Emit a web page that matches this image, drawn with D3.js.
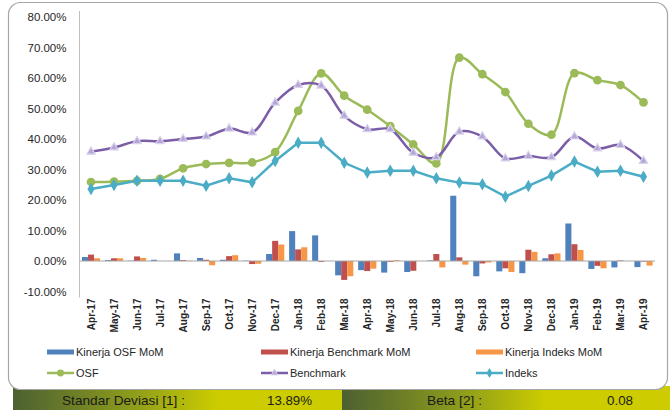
<!DOCTYPE html>
<html lang="en">
  <head>
    <meta charset="UTF-8" />
    <script src="https://cdn.jsdelivr.net/npm/d3@7/dist/d3.min.js"></script>
    <style>
      body {
        margin: 0;
        background: #fff;
        font-family: "Liberation Sans", Arial, sans-serif;
      }
    </style>
  </head>
  <body>
    <div class="canvas"></div>
    <script>
      const months = [
        "Apr-17", "May-17", "Jun-17", "Jul-17", "Aug-17", "Sep-17", "Oct-17",
        "Nov-17", "Dec-17", "Jan-18", "Feb-18", "Mar-18", "Apr-18", "May-18",
        "Jun-18", "Jul-18", "Aug-18", "Sep-18", "Oct-18", "Nov-18", "Dec-18",
        "Jan-19", "Feb-19", "Mar-19", "Apr-19",
      ];

      // cumulative lines (%)
      const osf = [25.9, 26.0, 26.3, 26.9, 30.4, 31.8, 32.2, 32.3, 35.7, 49.2, 61.5, 54.2,
        49.6, 44.2, 38.2, 32.0, 66.7, 61.3, 55.4, 45.0, 41.4, 61.6, 59.3, 57.7, 52.0];
      const benchmark = [35.8, 37.2, 39.3, 39.3, 40.0, 40.8, 43.4, 42.1, 51.9, 57.7, 57.5, 47.6,
        43.2, 43.2, 35.5, 34.0, 42.4, 40.8, 33.6, 34.4, 34.0, 40.8, 36.9, 38.0, 32.8];
      const indeks = [23.6, 24.9, 26.3, 26.3, 26.3, 24.7, 27.1, 25.8, 32.8, 38.8, 38.8, 32.2,
        29.0, 29.6, 29.6, 27.1, 25.7, 25.2, 21.1, 24.6, 28.0, 32.6, 29.3, 29.6, 27.6];

      // monthly bars (%)
      const osfMoM = [1.3, 0.3, 0.1, 0.4, 2.5, 1.0, 0.4, 0.1, 2.3, 9.8, 8.4, -4.7,
        -3.0, -3.8, -3.6, 0.2, 21.4, -5.0, -3.4, -4.0, 0.9, 12.3, -2.6, -2.1, -2.0];
      const benchMoM = [2.1, 0.9, 1.5, 0.0, 0.3, 0.4, 1.6, -1.0, 6.6, 3.8, -0.3, -6.2,
        -3.3, -0.3, -3.2, 2.3, 1.2, -0.8, -2.4, 3.7, 2.2, 5.5, -1.6, 0.2, -0.2];
      const indeksMoM = [0.9, 0.9, 1.0, 0.0, 0.1, -1.4, 1.9, -0.9, 5.4, 4.5, 0.0, -5.0,
        -2.5, 0.3, 0.0, -2.1, -1.2, -0.5, -3.6, 3.0, 2.5, 3.6, -2.4, 0.0, -1.5];

      const yTicks = [-10, 0, 10, 20, 30, 40, 50, 60, 70, 80];

      const stats = [
        { label: "Standar Deviasi [1] :", value: "13.89%" },
        { label: "Beta [2] :", value: "0.08" },
      ];

      const W = 670, H = 410;
      const plot = { left: 79.5, right: 655, top: 17, bottom: 291.5 };

      const svg = d3.select(".canvas").append("svg")
        .attr("width", W).attr("height", H);

      const defs = svg.append("defs");
      const grad = defs.append("linearGradient").attr("id", "strip");
      grad.append("stop").attr("offset", "0%").attr("stop-color", "#4c6032");
      grad.append("stop").attr("offset", "35%").attr("stop-color", "#8a9a1c");
      grad.append("stop").attr("offset", "62%").attr("stop-color", "#cccc00");
      grad.append("stop").attr("offset", "100%").attr("stop-color", "#cccc00");

      // stats strip (drawn first, frame sits over its top edge)
      const panels = [
        { x0: 13, w: 329, lx: 62, lw: 123, vx: 267, vw: 45 },
        { x0: 342, w: 328, lx: 427, lw: 55, vx: 607, vw: 26 },
      ];
      const strip = svg.append("g").attr("font-size", 13).attr("fill", "#1a1a1a");
      panels.forEach((p, i) => {
        strip.append("rect").attr("x", p.x0).attr("y", 386).attr("width", p.w).attr("height", 24)
          .attr("fill", "url(#strip)");
        strip.append("text").attr("x", p.lx).attr("y", 405)
          .attr("textLength", p.lw).attr("lengthAdjust", "spacingAndGlyphs")
          .text(stats[i].label);
        strip.append("text").attr("x", p.vx).attr("y", 405)
          .attr("textLength", p.vw).attr("lengthAdjust", "spacingAndGlyphs")
          .text(stats[i].value);
      });

      // frame
      svg.append("rect")
        .attr("x", 8.5).attr("y", 2.5).attr("width", 659).attr("height", 387)
        .attr("rx", 12).attr("fill", "#fff")
        .attr("stroke", "#a6a6a6").attr("stroke-width", 1.2);

      const x = d3.scaleBand().domain(months).range([plot.left, plot.right]);
      const y = d3.scaleLinear().domain([-10, 80]).range([plot.bottom, plot.top]);

      // y axis
      const yAxis = svg.append("g")
        .attr("transform", `translate(${plot.left},0)`)
        .call(d3.axisLeft(y).tickValues(yTicks).tickSize(0).tickPadding(13)
          .tickFormat((d) => d.toFixed(2) + "%"));
      yAxis.select(".domain").attr("stroke", "#bfbfbf").attr("d", `M0,${plot.top - 6}V${plot.bottom + 6}`);
      yAxis.selectAll("text").attr("font-size", 11.5).attr("fill", "#262626")
        .attr("font-family", "Liberation Sans, Arial, sans-serif");

      // bars
      const inner = d3.scaleBand()
        .domain(["osf", "bench", "idx"])
        .range([0, x.bandwidth()])
        .paddingInner(0)
        .paddingOuter(0.4);
      const barSeries = [
        { key: "osf", values: osfMoM, color: "#4f81bd" },
        { key: "bench", values: benchMoM, color: "#c0504d" },
        { key: "idx", values: indeksMoM, color: "#f79646" },
      ];
      barSeries.forEach((s) => {
        svg.append("g").selectAll("rect")
          .data(s.values)
          .join("rect")
          .attr("x", (d, i) => x(months[i]) + inner(s.key))
          .attr("width", inner.bandwidth())
          .attr("y", (d) => y(Math.max(0, d)))
          .attr("height", (d) => Math.abs(y(d) - y(0)))
          .attr("fill", s.color);
      });

      // zero line
      svg.append("line")
        .attr("x1", plot.left).attr("x2", plot.right)
        .attr("y1", y(0)).attr("y2", y(0))
        .attr("stroke", "#a6a6a6");

      // x axis labels
      const xAxis = svg.append("g")
        .attr("transform", `translate(0,${plot.bottom + 6})`)
        .call(d3.axisBottom(x).tickSize(0).tickPadding(0));
      xAxis.select(".domain").remove();
      xAxis.selectAll("text")
        .attr("transform", "rotate(-90)")
        .attr("text-anchor", "end")
        .attr("x", -1).attr("y", 0).attr("dy", "0.35em")
        .attr("font-size", 10).attr("font-weight", "bold").attr("fill", "#262626");

      // lines
      const cx = (i) => x(months[i]) + x.bandwidth() / 2;
      const lineSeries = [
        { name: "OSF", values: osf, color: "#9bbb59", curve: d3.curveCatmullRom.alpha(0.5), marker: "circle" },
        { name: "Benchmark", values: benchmark, color: "#7b5ea7", curve: d3.curveCatmullRom.alpha(0.5), marker: "triangle" },
        { name: "Indeks", values: indeks, color: "#4bacc6", curve: d3.curveLinear, marker: "diamond" },
      ];
      const symbolFor = {
        circle: d3.symbol().type(d3.symbolCircle).size(60),
        triangle: d3.symbol().type(d3.symbolTriangle).size(30),
        diamond: d3.symbol().type(d3.symbolDiamond).size(45),
      };

      function drawMarker(g, s, px, py, scale = 1) {
        const m = g.append("path")
          .attr("d", symbolFor[s.marker]())
          .attr("transform", `translate(${px},${py}) scale(${scale})`);
        if (s.marker === "triangle") {
          m.attr("fill", "#b4a7d6").attr("stroke", "#d9d2ec").attr("stroke-width", 1.2);
        } else {
          m.attr("fill", s.color);
        }
      }

      lineSeries.forEach((s) => {
        const g = svg.append("g");
        g.append("path")
          .datum(s.values)
          .attr("fill", "none")
          .attr("stroke", s.color)
          .attr("stroke-width", 2.5)
          .attr("d", d3.line().x((d, i) => cx(i)).y((d) => y(d)).curve(s.curve));
        s.values.forEach((v, i) => drawMarker(g, s, cx(i), y(v)));
      });

      // legend
      const legendX = [47, 261, 476];
      const barLegend = [
        { name: "Kinerja OSF MoM", color: "#4f81bd" },
        { name: "Kinerja Benchmark MoM", color: "#c0504d" },
        { name: "Kinerja Indeks MoM", color: "#f79646" },
      ];
      const leg = svg.append("g").attr("font-size", 11).attr("fill", "#262626");
      barLegend.forEach((b, i) => {
        leg.append("rect").attr("x", legendX[i]).attr("y", 349.5).attr("width", 27).attr("height", 5)
          .attr("fill", b.color);
        leg.append("text").attr("x", legendX[i] + 29).attr("y", 352).attr("dy", "0.35em").text(b.name);
      });
      lineSeries.forEach((s, i) => {
        const g = leg.append("g");
        g.append("line").attr("x1", legendX[i]).attr("x2", legendX[i] + 27)
          .attr("y1", 373).attr("y2", 373).attr("stroke", s.color).attr("stroke-width", 2.5);
        drawMarker(g, s, legendX[i] + 13.5, 373, 0.8);
        g.append("text").attr("x", legendX[i] + 29).attr("y", 373).attr("dy", "0.35em").text(s.name);
      });
    </script>
  </body>
</html>
